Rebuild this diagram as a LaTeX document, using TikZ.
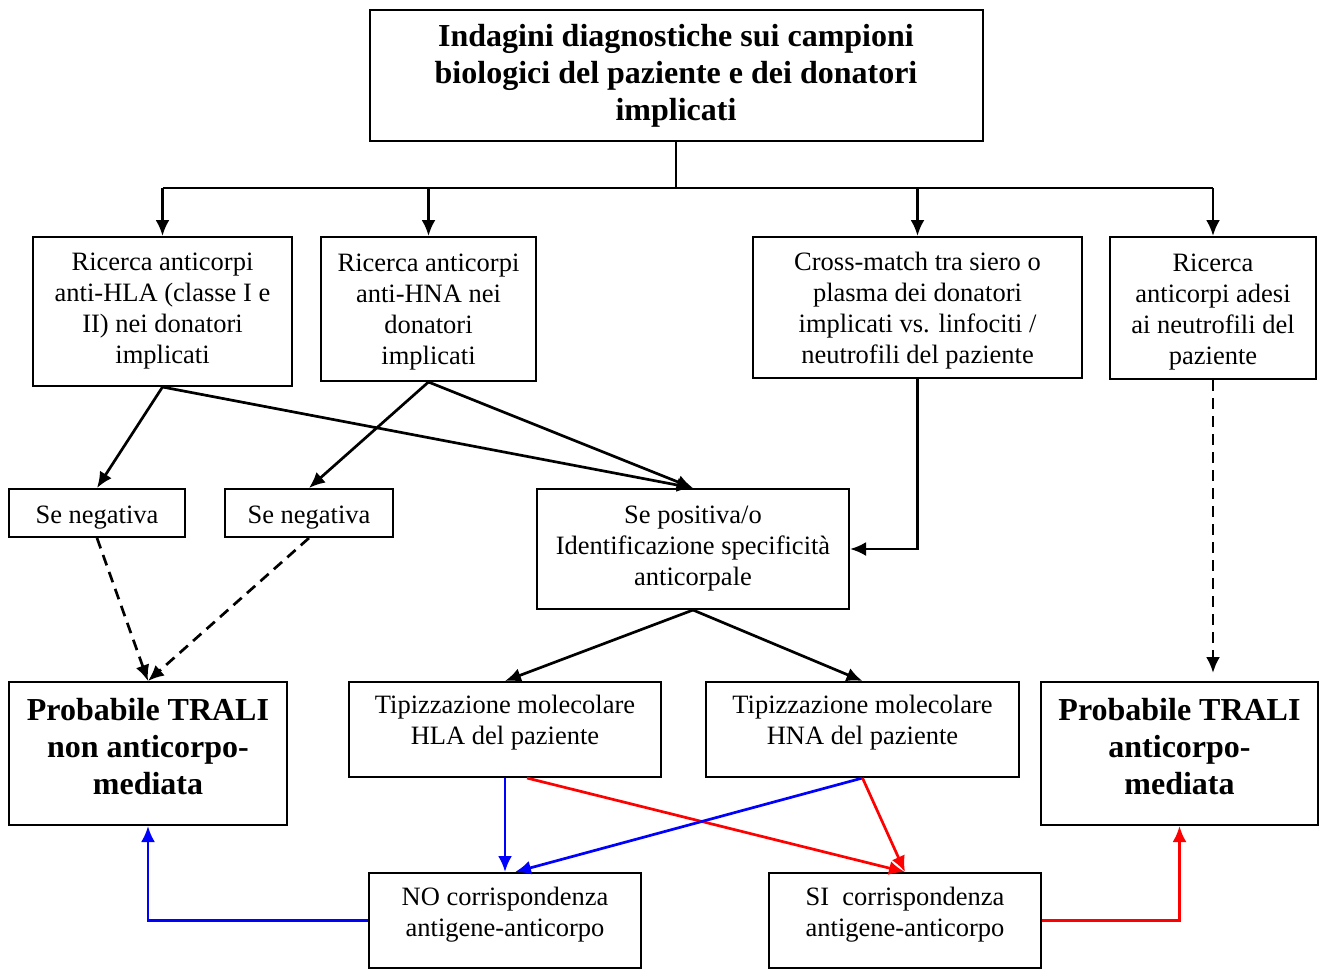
\documentclass[tikz,border=0pt]{standalone}
\usepackage{fontspec}
\setmainfont{Liberation Serif}
\usetikzlibrary{arrows.meta}
\newcommand{\lift}[1]{\rule[-#1]{0pt}{#1}}
\newcommand{\drop}[1]{\rule{0pt}{#1}}
\tikzset{
  box/.style={draw, line width=2pt, align=center, inner sep=0pt,
    font=\fontsize{26.5}{31}\selectfont},
  bigbox/.style={box, font=\fontsize{32}{37}\selectfont\bfseries},
  link/.style={line width=2.7pt, -{Latex[length=16pt,width=14pt]}},
  dashlink/.style={link, dash pattern=on 11pt off 7pt},
}
\begin{document}
\begin{tikzpicture}[x=1pt,y=-1pt]
        \useasboundingbox (0,0) rectangle (1325,970);
        %% Top
        \node[bigbox, minimum width=613pt, minimum height=131pt] (indagini) at (676,75.5)
          {Indagini diagnostiche sui campioni\\biologici del paziente e dei donatori\\implicati};
        %% Searches
        \node[box, minimum width=259pt, minimum height=149pt] (hla) at (162.5,311.5)
          {Ricerca anticorpi\\anti-HLA (classe I e\\II) nei donatori\\implicati};
        \node[box, minimum width=215pt, minimum height=144pt] (hna) at (428.5,309)
          {\drop{23pt}Ricerca anticorpi\\anti-HNA nei\\donatori\\implicati};
        \node[box, minimum width=329pt, minimum height=141pt] (cross) at (917.5,307.5)
          {\drop{25pt}Cross-match tra siero o\\plasma dei donatori\\implicati vs. linfociti /\\neutrofili del paziente};
        \node[box, minimum width=206pt, minimum height=142pt] (adesi) at (1213,308)
          {\drop{25pt}Ricerca\\anticorpi adesi\\ai neutrofili del\\paziente};
        %% Results
        \node[box, minimum width=176pt, minimum height=48pt] (neg1) at (97,513) {\drop{27pt}Se negativa};
        \node[box, minimum width=168pt, minimum height=48pt] (neg2) at (309,513) {\drop{27pt}Se negativa};
        \node[box, minimum width=312pt, minimum height=120pt] (pos) at (693,549)
          {Se positiva/o\\Identificazione specificità\\anticorpale};
        %% Typing
        \node[box, minimum width=312pt, minimum height=95pt] (tiphla) at (505,729.5)
          {Tipizzazione molecolare\\HLA del paziente\lift{19pt}};
        \node[box, minimum width=313pt, minimum height=95pt] (tiphna) at (862.5,729.5)
          {Tipizzazione molecolare\\HNA del paziente\lift{19pt}};
        %% Conclusions
        \node[bigbox, minimum width=278pt, minimum height=143pt] (tralino) at (148,753.5)
          {Probabile TRALI\\non anticorpo-\\mediata\lift{14pt}};
        \node[bigbox, minimum width=277pt, minimum height=143pt] (tralisi) at (1179.5,753.5)
          {Probabile TRALI\\anticorpo-\\mediata\lift{14pt}};
        \node[box, minimum width=272pt, minimum height=95pt] (no) at (505,920.5)
          {NO corrispondenza\\antigene-anticorpo\lift{17pt}};
        \node[box, minimum width=272pt, minimum height=95pt] (si) at (905,920.5)
          {SI\ \ corrispondenza\\antigene-anticorpo\lift{17pt}};
        %% Bus
        \coordinate (bus) at (676,188);
        \draw[line width=2.7pt] (indagini.south) -- (bus);
        \draw[line width=2.7pt] (hla.north |- bus) -- (adesi.north |- bus);
        \foreach \n in {hla,hna,cross,adesi}
          \draw[link] (\n.north |- bus) -- (\n.north);
        %% Search results
        \draw[link] (hla.south) -- (neg1.north);
        \draw[link] (hla.south) -- (pos.north);
        \draw[link] (hna.south) -- (neg2.north);
        \draw[link] (hna.south) -- (pos.north);
        \draw[link] (cross.south) |- (pos.east);
        \draw[dashlink, shorten >=8pt] (adesi.south) -- (adesi.south |- tralisi.north);
        \draw[dashlink] (neg1.south) -- (tralino.north);
        \draw[dashlink] (neg2.south) -- (tralino.north);
        %% Typing
        \draw[link] (pos.south) -- (tiphla.north);
        \draw[link] (pos.south) -- (tiphna.north);
        \draw[link, blue] (tiphla.south) -- (no.north);
        \draw[link, red] ([xshift=22pt]tiphla.south) -- (si.north);
        \draw[link, blue] (tiphna.south) -- ([xshift=10pt]no.north);
        \draw[link, red] (tiphna.south) -- (si.north);
        %% Conclusions
        \draw[link, blue] (no.west) -| (tralino.south);
        \draw[link, red] (si.east) -| (tralisi.south);
    \end{tikzpicture}
\end{document}
